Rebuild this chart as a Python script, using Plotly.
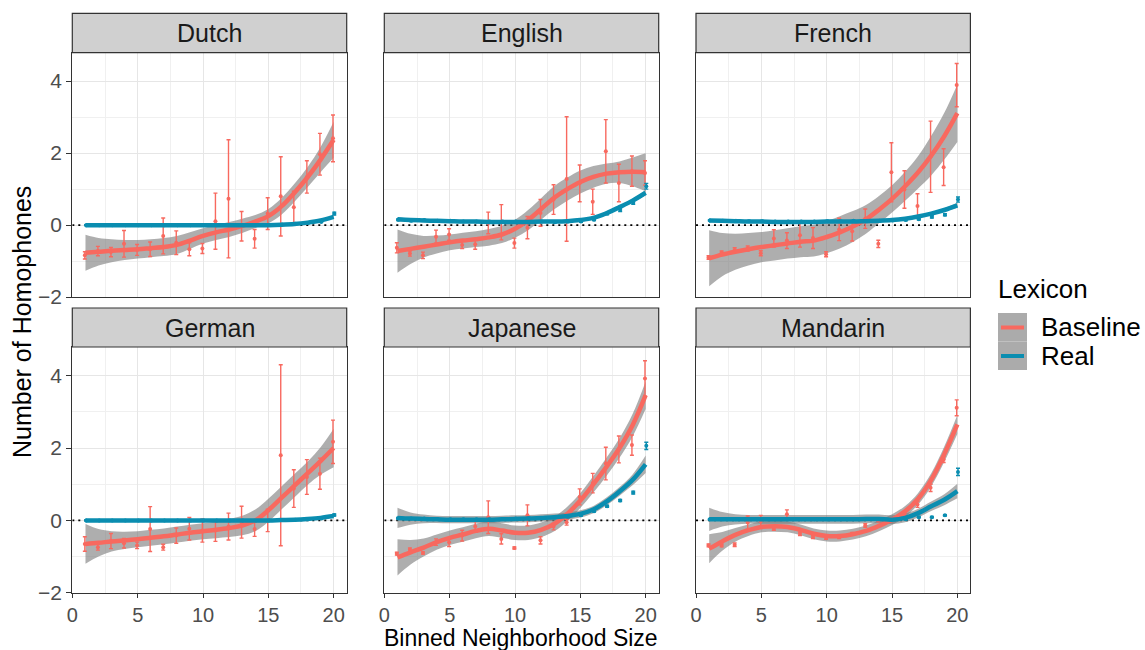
import plotly.graph_objects as go

# ---------------------------------------------------------------- data
bins = list(range(1, 21))
languages = ["Dutch", "English", "French", "German", "Japanese", "Mandarin"]
y_ticks = [-2, 0, 2, 4]
x_ticks = [0, 5, 10, 15, 20]

# Baseline lexicon: bin means and standard errors
dutch_base_mean = [-0.84, -0.72, -0.75, -0.52, -0.69, -0.67, -0.30, -0.49, -0.67, -0.65,
                   0.11, 0.73, -0.03, -0.38, 0.32, 0.80, 0.50, 1.34, 1.97, 2.41]
dutch_base_se = [0.10, 0.13, 0.13, 0.37, 0.15, 0.20, 0.50, 0.33, 0.18, 0.14,
                 0.78, 1.64, 0.41, 0.26, 0.44, 1.10, 0.44, 0.45, 0.58, 0.65]
english_base_mean = [-0.63, -0.79, -0.84, -0.32, -0.26, -0.55, -0.53, 0.06, 0.08, -0.50,
                     -0.07, 0.34, 0.71, 1.28, 1.16, 0.65, 2.05, 1.17, 1.50, 1.45]
english_base_se = [0.14, 0.07, 0.09, 0.18, 0.16, 0.10, 0.14, 0.30, 0.49, 0.14,
                   0.31, 0.37, 0.41, 1.73, 0.51, 0.35, 0.88, 0.52, 0.42, 0.34]
french_base_mean = [-0.90, -0.77, -0.69, -0.65, -0.78, -0.37, -0.43, -0.28, -0.36, -0.81,
                    -0.12, -0.17, 0.18, -0.52, 1.47, 0.99, 0.53, 1.90, 1.61, 3.89]
french_base_se = [0.05, 0.05, 0.06, 0.07, 0.07, 0.24, 0.22, 0.33, 0.29, 0.07,
                  0.31, 0.27, 0.27, 0.10, 0.82, 0.52, 0.34, 0.99, 0.51, 0.60]
german_base_mean = [-0.65, -0.74, -0.57, -0.63, -0.69, -0.24, -0.74, -0.42, -0.23, -0.28,
                    -0.28, -0.17, -0.05, -0.24, 0.00, 1.80, 0.88, 1.20, 1.29, 2.17]
german_base_se = [0.20, 0.08, 0.21, 0.13, 0.09, 0.62, 0.08, 0.21, 0.31, 0.32,
                  0.30, 0.37, 0.44, 0.20, 0.31, 2.50, 0.52, 0.48, 0.43, 0.60]
japanese_base_mean = [-0.92, -0.81, -0.90, -0.60, -0.60, -0.42, -0.17, 0.09, -0.51, -0.76,
                      0.14, -0.55, -0.17, -0.05, 0.65, 1.03, 1.57, 1.96, 2.08, 3.92]
japanese_base_se = [0.04, 0.05, 0.03, 0.09, 0.12, 0.15, 0.16, 0.45, 0.14, 0.03,
                    0.29, 0.10, 0.09, 0.08, 0.22, 0.27, 0.45, 0.37, 0.28, 0.49]
mandarin_base_mean = [-0.69, -0.69, -0.67, -0.06, -0.02, -0.23, 0.17, -0.37, -0.46, -0.48,
                      -0.46, -0.37, -0.14, 0.00, 0.02, 0.18, 0.44, 0.90, 1.68, 3.11]
mandarin_base_se = [0.04, 0.04, 0.05, 0.18, 0.16, 0.04, 0.12, 0.05, 0.04, 0.04,
                    0.04, 0.04, 0.05, 0.04, 0.05, 0.06, 0.08, 0.10, 0.08, 0.22]

# Real lexicon: bin means and standard errors
dutch_real_mean = [0.00, 0.00, 0.00, 0.00, 0.00, 0.00, 0.00, 0.00, 0.00, 0.00,
                   0.00, 0.00, 0.00, 0.00, 0.01, 0.02, 0.04, 0.06, 0.09, 0.32]
dutch_real_se = [0.01] * 19 + [0.04]
english_real_mean = [0.15, 0.12, 0.14, 0.12, 0.12, 0.10, 0.10, 0.10, 0.10, 0.10,
                     0.10, 0.10, 0.08, 0.10, 0.10, 0.15, 0.32, 0.42, 0.62, 1.08]
english_real_se = [0.02] * 16 + [0.03, 0.04, 0.04, 0.08]
french_real_mean = [0.13, 0.12, 0.12, 0.11, 0.11, 0.10, 0.10, 0.10, 0.10, 0.11,
                    0.11, 0.12, 0.13, 0.12, 0.13, 0.14, 0.16, 0.23, 0.29, 0.71]
french_real_se = [0.02] * 17 + [0.03, 0.03, 0.07]
german_real_mean = [0.00, 0.00, 0.00, 0.00, 0.00, 0.00, 0.00, 0.00, 0.00, 0.00,
                    0.00, 0.00, 0.00, 0.00, 0.00, 0.01, 0.02, 0.03, 0.05, 0.15]
german_real_se = [0.01] * 19 + [0.03]
japanese_real_mean = [0.06, 0.05, 0.05, 0.04, 0.03, 0.03, 0.03, 0.03, 0.04, 0.05,
                      0.06, 0.07, 0.08, 0.10, 0.14, 0.25, 0.39, 0.55, 0.77, 2.06]
japanese_real_se = [0.02] * 16 + [0.03, 0.03, 0.04, 0.10]
mandarin_real_mean = [0.03, 0.03, 0.03, 0.03, 0.03, 0.03, 0.03, 0.03, 0.03, 0.03,
                      0.03, 0.03, 0.04, 0.04, 0.02, 0.03, 0.09, 0.09, 0.14, 1.34]
mandarin_real_se = [0.02] * 19 + [0.10]

# Smoothed trends (loess fit and half-width of its 95% band)
dutch_base_fit = [-0.77, -0.74, -0.71, -0.69, -0.67, -0.64, -0.61, -0.55, -0.43, -0.30,
                  -0.20, -0.12, -0.02, 0.10, 0.25, 0.52, 0.90, 1.33, 1.82, 2.37]
dutch_base_band = [0.50, 0.38, 0.32, 0.28, 0.26, 0.25, 0.25, 0.25, 0.23, 0.21,
                   0.21, 0.21, 0.20, 0.18, 0.20, 0.23, 0.25, 0.28, 0.35, 0.50]
dutch_real_fit = [0.00, 0.00, 0.00, 0.00, 0.00, 0.00, 0.00, 0.00, 0.00, 0.00,
                  0.00, 0.00, 0.00, 0.00, 0.00, 0.01, 0.03, 0.07, 0.13, 0.23]
dutch_real_band = [0.02] * 18 + [0.03, 0.04]

english_base_fit = [-0.72, -0.66, -0.60, -0.54, -0.48, -0.43, -0.39, -0.34, -0.26, -0.10,
                    0.14, 0.45, 0.76, 1.00, 1.20, 1.34, 1.43, 1.47, 1.48, 1.47]
english_base_band = [0.60, 0.42, 0.30, 0.25, 0.22, 0.22, 0.22, 0.23, 0.24, 0.25,
                     0.28, 0.30, 0.32, 0.32, 0.32, 0.30, 0.28, 0.30, 0.40, 0.53]
english_real_fit = [0.16, 0.14, 0.13, 0.12, 0.11, 0.10, 0.10, 0.09, 0.09, 0.09,
                    0.09, 0.10, 0.10, 0.11, 0.14, 0.20, 0.33, 0.50, 0.68, 0.90]
english_real_band = [0.05, 0.04, 0.03, 0.03, 0.03, 0.03, 0.03, 0.03, 0.03, 0.03,
                     0.03, 0.03, 0.03, 0.03, 0.03, 0.03, 0.03, 0.04, 0.05, 0.07]

french_base_fit = [-0.92, -0.82, -0.74, -0.67, -0.61, -0.56, -0.51, -0.46, -0.43, -0.33,
                   -0.20, -0.04, 0.16, 0.43, 0.73, 1.08, 1.47, 1.93, 2.47, 3.11]
french_base_band = [0.78, 0.60, 0.50, 0.45, 0.42, 0.42, 0.42, 0.43, 0.44, 0.45,
                    0.45, 0.43, 0.40, 0.38, 0.38, 0.40, 0.45, 0.55, 0.65, 0.80]
french_real_fit = [0.13, 0.12, 0.11, 0.10, 0.10, 0.09, 0.09, 0.09, 0.09, 0.10,
                   0.10, 0.10, 0.11, 0.12, 0.14, 0.18, 0.24, 0.32, 0.42, 0.55]
french_real_band = [0.05, 0.04, 0.03, 0.03, 0.03, 0.03, 0.03, 0.03, 0.03, 0.03,
                    0.03, 0.03, 0.03, 0.03, 0.03, 0.03, 0.03, 0.04, 0.05, 0.07]

german_base_fit = [-0.65, -0.62, -0.58, -0.55, -0.52, -0.48, -0.44, -0.39, -0.34, -0.30,
                   -0.26, -0.21, -0.14, 0.00, 0.28, 0.62, 0.96, 1.30, 1.64, 2.00]
german_base_band = [0.55, 0.38, 0.28, 0.24, 0.22, 0.22, 0.22, 0.22, 0.22, 0.22,
                    0.23, 0.25, 0.27, 0.30, 0.32, 0.32, 0.32, 0.32, 0.38, 0.53]
german_real_fit = [0.00, 0.00, 0.00, 0.00, 0.00, 0.00, 0.00, 0.00, 0.00, 0.00,
                   0.00, 0.00, 0.00, 0.00, 0.00, 0.01, 0.02, 0.04, 0.07, 0.12]
german_real_band = [0.02] * 18 + [0.03, 0.03]

japanese_base_fit = [-1.02, -0.88, -0.75, -0.60, -0.48, -0.39, -0.29, -0.23, -0.28, -0.34,
                     -0.34, -0.26, -0.10, 0.18, 0.55, 1.00, 1.48, 2.00, 2.63, 3.46]
japanese_base_band = [0.50, 0.34, 0.25, 0.21, 0.20, 0.20, 0.20, 0.20, 0.20, 0.20,
                      0.20, 0.20, 0.20, 0.20, 0.21, 0.23, 0.25, 0.27, 0.31, 0.38]
japanese_real_fit = [0.07, 0.05, 0.04, 0.03, 0.02, 0.02, 0.02, 0.02, 0.03, 0.04,
                     0.05, 0.07, 0.09, 0.12, 0.18, 0.30, 0.52, 0.80, 1.12, 1.55]
japanese_real_band = [0.28, 0.17, 0.12, 0.10, 0.10, 0.10, 0.10, 0.10, 0.10, 0.10,
                      0.10, 0.10, 0.10, 0.10, 0.10, 0.10, 0.11, 0.12, 0.15, 0.24]

mandarin_base_fit = [-0.78, -0.58, -0.40, -0.27, -0.18, -0.16, -0.18, -0.26, -0.37, -0.43,
                     -0.43, -0.38, -0.29, -0.15, 0.02, 0.25, 0.60, 1.12, 1.83, 2.65]
mandarin_base_band = [0.40, 0.26, 0.19, 0.16, 0.15, 0.15, 0.15, 0.15, 0.15, 0.15,
                      0.15, 0.15, 0.15, 0.15, 0.15, 0.15, 0.16, 0.18, 0.21, 0.26]
mandarin_real_fit = [0.03, 0.03, 0.03, 0.03, 0.03, 0.03, 0.03, 0.03, 0.03, 0.03,
                     0.03, 0.03, 0.04, 0.04, 0.02, 0.07, 0.20, 0.39, 0.57, 0.81]
mandarin_real_band = [0.32, 0.20, 0.14, 0.12, 0.12, 0.12, 0.12, 0.12, 0.12, 0.12,
                      0.12, 0.12, 0.12, 0.12, 0.12, 0.12, 0.12, 0.13, 0.15, 0.20]

panels = {
    "Dutch": (dutch_base_mean, dutch_base_se, dutch_real_mean, dutch_real_se,
              dutch_base_fit, dutch_base_band, dutch_real_fit, dutch_real_band),
    "English": (english_base_mean, english_base_se, english_real_mean, english_real_se,
                english_base_fit, english_base_band, english_real_fit, english_real_band),
    "French": (french_base_mean, french_base_se, french_real_mean, french_real_se,
               french_base_fit, french_base_band, french_real_fit, french_real_band),
    "German": (german_base_mean, german_base_se, german_real_mean, german_real_se,
               german_base_fit, german_base_band, german_real_fit, german_real_band),
    "Japanese": (japanese_base_mean, japanese_base_se, japanese_real_mean, japanese_real_se,
                 japanese_base_fit, japanese_base_band, japanese_real_fit, japanese_real_band),
    "Mandarin": (mandarin_base_mean, mandarin_base_se, mandarin_real_mean, mandarin_real_se,
                 mandarin_base_fit, mandarin_base_band, mandarin_real_fit, mandarin_real_band),
}

# ---------------------------------------------------------------- style
W, H = 1145, 650
FONT = "Liberation Sans, Arial, Helvetica, sans-serif"
RED = "#F8695F"
TEAL = "#0A8DB0"
BAND = "rgba(120,120,120,0.6)"
BORDER = "#333333"
GRID = "#E6E6E6"
GRID_MINOR = "#F0F0F0"
STRIP = "#D0D0D0"
DODGE = 0.05

col_px = [(72.3, 346.7), (384.3, 658.7), (696.0, 970.4)]
row_px = [(52.7, 297.3), (347.0, 593.0)]      # plot area top/bottom
strip_px = [(13.3, 52.7), (308.0, 347.0)]     # strip top/bottom
X_RANGE = [-0.01, 21.0]
Y_RANGE = [-2.005, 4.79]


def px_x(p):
    return p / W


def px_y(p):
    return 1 - p / H


fig = go.Figure()
layout = dict(
    width=W, height=H, margin=dict(l=0, r=0, t=0, b=0, autoexpand=False),
    paper_bgcolor="white", plot_bgcolor="white", showlegend=False,
    font=dict(family=FONT, color="#1A1A1A"),
)
shapes, annotations = [], []

for i, lang in enumerate(languages):
    r, c = divmod(i, 3)
    sfx = "" if i == 0 else str(i + 1)
    xa, ya = "x" + sfx, "y" + sfx
    (b_mean, b_se, r_mean, r_se, b_fit, b_band, r_fit, r_band) = panels[lang]

    # zero reference line
    fig.add_trace(go.Scatter(x=[X_RANGE[0], X_RANGE[1]], y=[0, 0], mode="lines",
                             line=dict(color="black", width=1.6, dash="2px,4px"),
                             xaxis=xa, yaxis=ya, hoverinfo="skip"))

    # confidence bands
    for fit, band in ((b_fit, b_band), (r_fit, r_band)):
        lo = [f - b for f, b in zip(fit, band)]
        hi = [f + b for f, b in zip(fit, band)]
        fig.add_trace(go.Scatter(x=bins, y=lo, mode="lines", line=dict(width=0, shape="spline"),
                                 xaxis=xa, yaxis=ya, hoverinfo="skip"))
        fig.add_trace(go.Scatter(x=bins, y=hi, mode="lines", line=dict(width=0, shape="spline"),
                                 fill="tonexty", fillcolor=BAND,
                                 xaxis=xa, yaxis=ya, hoverinfo="skip"))

    # bin means with error bars
    for mean, se, color, shift in ((b_mean, b_se, RED, -DODGE), (r_mean, r_se, TEAL, DODGE)):
        fig.add_trace(go.Scatter(
            x=[b + shift for b in bins], y=mean, mode="markers",
            marker=dict(color=color, size=4),
            error_y=dict(type="data", array=se, color=color, thickness=1.4, width=2),
            xaxis=xa, yaxis=ya))

    # smoothed trends
    for fit, color in ((b_fit, RED), (r_fit, TEAL)):
        fig.add_trace(go.Scatter(x=bins, y=fit, mode="lines",
                                 line=dict(color=color, width=4.5, shape="spline"),
                                 xaxis=xa, yaxis=ya))

    x0, x1 = col_px[c]
    yt, yb = row_px[r]
    bottom_row = r == 1
    left_col = c == 0
    layout["xaxis" + sfx] = dict(
        domain=[px_x(x0), px_x(x1)], range=X_RANGE, anchor=ya, automargin=False,
        tickvals=x_ticks, showticklabels=bottom_row,
        ticks="outside" if bottom_row else "", ticklen=4, tickcolor=BORDER, tickwidth=1,
        tickfont=dict(size=20, color="#4D4D4D", family=FONT),
        showgrid=True, gridcolor=GRID, gridwidth=1.3,
        minor=dict(tickvals=[2.5, 7.5, 12.5, 17.5], showgrid=True, gridcolor=GRID_MINOR, gridwidth=0.8),
        showline=True, mirror=True, linecolor=BORDER, linewidth=1.2, zeroline=False,
    )
    layout["yaxis" + sfx] = dict(
        domain=[px_y(yb), px_y(yt)], range=Y_RANGE, anchor=xa, automargin=False,
        tickvals=y_ticks, showticklabels=left_col,
        ticks="outside" if left_col else "", ticklen=5, tickcolor=BORDER, tickwidth=1,
        tickfont=dict(size=21, color="#4D4D4D", family=FONT),
        showgrid=True, gridcolor=GRID, gridwidth=1.3,
        minor=dict(tickvals=[-1, 1, 3], showgrid=True, gridcolor=GRID_MINOR, gridwidth=0.8),
        showline=True, mirror=True, linecolor=BORDER, linewidth=1.2, zeroline=False,
    )

    # facet strip
    st, sb = strip_px[r]
    shapes.append(dict(type="rect", xref="paper", yref="paper",
                       x0=px_x(x0), x1=px_x(x1), y0=px_y(sb), y1=px_y(st),
                       fillcolor=STRIP, line=dict(color=BORDER, width=1.2), layer="above"))
    annotations.append(dict(text=lang, xref="paper", yref="paper",
                            x=px_x((x0 + x1) / 2), y=px_y((st + sb) / 2),
                            xanchor="center", yanchor="middle", showarrow=False,
                            font=dict(size=25, color="#1A1A1A", family=FONT)))

# axis titles
annotations.append(dict(text="Binned Neighborhood Size", xref="paper", yref="paper",
                        x=px_x(521), y=0, xanchor="center", yanchor="bottom", yshift=-2,
                        borderpad=0, showarrow=False,
                        font=dict(size=23, color="black", family=FONT)))
annotations.append(dict(text="Number of Homophones", xref="paper", yref="paper",
                        x=px_x(22), y=px_y(322), xanchor="center", yanchor="middle",
                        textangle=-90, showarrow=False,
                        font=dict(size=25, color="black", family=FONT)))

# legend
lexicon_levels = ["Baseline", "Real"]
level_colors = [RED, TEAL]
annotations.append(dict(text="Lexicon", xref="paper", yref="paper",
                        x=px_x(996), y=px_y(289), xanchor="left", yanchor="middle",
                        showarrow=False, font=dict(size=26, color="black", family=FONT)))
for k, (lvl, col) in enumerate(zip(lexicon_levels, level_colors)):
    top = 313 + 28.5 * k
    shapes.append(dict(type="rect", xref="paper", yref="paper",
                       x0=px_x(998), x1=px_x(1027), y0=px_y(top + 28.5), y1=px_y(top),
                       fillcolor="#ABABAB", line=dict(width=0)))
    shapes.append(dict(type="line", xref="paper", yref="paper",
                       x0=px_x(1001), x1=px_x(1024), y0=px_y(top + 14.5), y1=px_y(top + 14.5),
                       line=dict(color=col, width=4)))
    annotations.append(dict(text=lvl, xref="paper", yref="paper",
                            x=px_x(1039), y=px_y(top + 14), xanchor="left", yanchor="middle",
                            showarrow=False, font=dict(size=26, color="black", family=FONT)))

layout["shapes"] = shapes
layout["annotations"] = annotations
fig.update_layout(**layout)
fig.write_html("out.html")
